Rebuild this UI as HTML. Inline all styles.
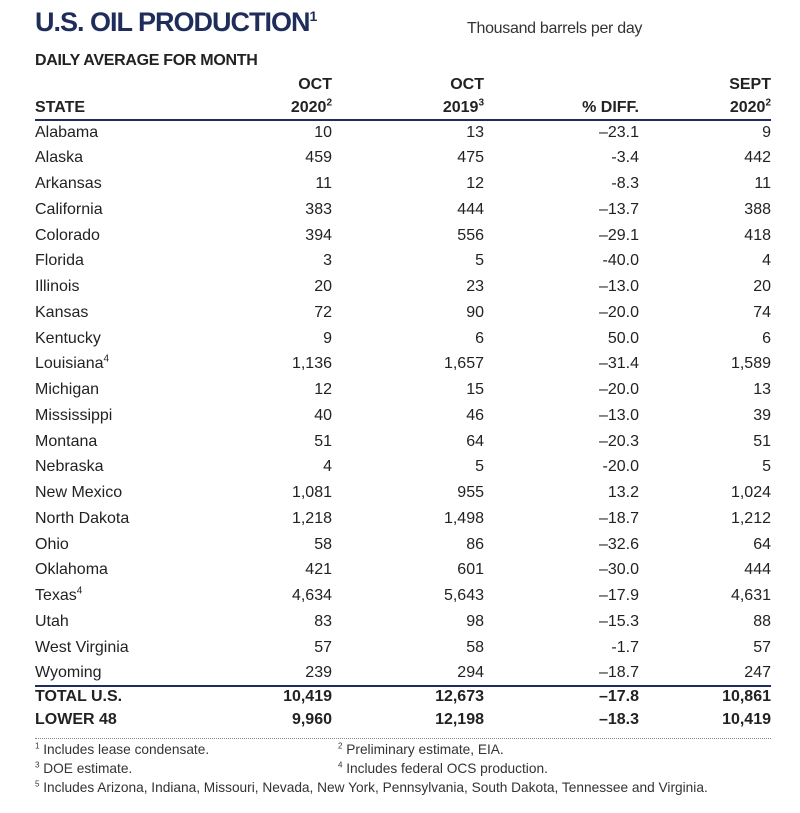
<!DOCTYPE html>
<html><head><meta charset="utf-8"><style>
body{margin:0;width:800px;height:813px;background:#fff;font-family:"Liberation Sans",sans-serif;color:#222;position:relative;overflow:hidden}
.a{position:absolute;white-space:nowrap}
.r{position:absolute;left:0;width:800px;height:24px;font-size:16px;line-height:24px}
.r > span{position:absolute;top:0}
.s{left:35px}
.c1{right:468px}.c2{right:316px}.c3{right:161px}.c4{right:29px}
sup{font-size:10px;vertical-align:super;line-height:0}
.b{font-weight:bold}
.fn{font-size:13.7px;color:#333}
.fn sup{font-size:8px}
</style></head><body>
<div class="a" style="left:35px;top:7px;font-size:27px;font-weight:bold;color:#1f2d5a;letter-spacing:-1px">U.S. OIL PRODUCTION<sup style="font-size:14px">1</sup></div>
<div class="a" style="left:467px;top:20px;font-size:16px;color:#333;letter-spacing:-0.3px">Thousand barrels per day</div>
<div class="a b" style="left:35px;top:52px;font-size:16px;letter-spacing:-0.3px">DAILY AVERAGE FOR MONTH</div>
<div class="r b" style="top:73px"><span class="c1">OCT</span><span class="c2">OCT</span><span class="c4">SEPT</span></div>
<div class="r b" style="top:96px"><span class="s">STATE</span><span class="c1">2020<sup>2</sup></span><span class="c2">2019<sup>3</sup></span><span class="c3">% DIFF.</span><span class="c4">2020<sup>2</sup></span></div>
<div class="a" style="left:35px;top:119px;width:736px;height:2px;background:#1f2d5a"></div>
<div class="a" style="left:35px;top:685px;width:736px;height:2px;background:#1f2d5a"></div>
<div class="r b" style="top:685px"><span class="s">TOTAL U.S.</span><span class="c1">10,419</span><span class="c2">12,673</span><span class="c3">–17.8</span><span class="c4">10,861</span></div>
<div class="r b" style="top:708px"><span class="s">LOWER 48</span><span class="c1">9,960</span><span class="c2">12,198</span><span class="c3">–18.3</span><span class="c4">10,419</span></div>
<div class="a" style="left:35px;top:738px;width:736px;border-top:1px dotted #888"></div>
<div class="a fn" style="left:35px;top:742px"><sup>1</sup> Includes lease condensate.</div>
<div class="a fn" style="left:338px;top:742px"><sup>2</sup> Preliminary estimate, EIA.</div>
<div class="a fn" style="left:35px;top:761px"><sup>3</sup> DOE estimate.</div>
<div class="a fn" style="left:338px;top:761px"><sup>4</sup> Includes federal OCS production.</div>
<div class="a fn" style="left:35px;top:780px"><sup>5</sup> Includes Arizona, Indiana, Missouri, Nevada, New York, Pennsylvania, South Dakota, Tennessee and Virginia.</div>
<div class="r" style="top:120.5px"><span class="s">Alabama</span><span class="c1">10</span><span class="c2">13</span><span class="c3">–23.1</span><span class="c4">9</span></div>
<div class="r" style="top:146.2px"><span class="s">Alaska</span><span class="c1">459</span><span class="c2">475</span><span class="c3">-3.4</span><span class="c4">442</span></div>
<div class="r" style="top:172px"><span class="s">Arkansas</span><span class="c1">11</span><span class="c2">12</span><span class="c3">-8.3</span><span class="c4">11</span></div>
<div class="r" style="top:197.7px"><span class="s">California</span><span class="c1">383</span><span class="c2">444</span><span class="c3">–13.7</span><span class="c4">388</span></div>
<div class="r" style="top:223.5px"><span class="s">Colorado</span><span class="c1">394</span><span class="c2">556</span><span class="c3">–29.1</span><span class="c4">418</span></div>
<div class="r" style="top:249.3px"><span class="s">Florida</span><span class="c1">3</span><span class="c2">5</span><span class="c3">-40.0</span><span class="c4">4</span></div>
<div class="r" style="top:275px"><span class="s">Illinois</span><span class="c1">20</span><span class="c2">23</span><span class="c3">–13.0</span><span class="c4">20</span></div>
<div class="r" style="top:300.8px"><span class="s">Kansas</span><span class="c1">72</span><span class="c2">90</span><span class="c3">–20.0</span><span class="c4">74</span></div>
<div class="r" style="top:326.5px"><span class="s">Kentucky</span><span class="c1">9</span><span class="c2">6</span><span class="c3">50.0</span><span class="c4">6</span></div>
<div class="r" style="top:352.3px"><span class="s">Louisiana<sup>4</sup></span><span class="c1">1,136</span><span class="c2">1,657</span><span class="c3">–31.4</span><span class="c4">1,589</span></div>
<div class="r" style="top:378px"><span class="s">Michigan</span><span class="c1">12</span><span class="c2">15</span><span class="c3">–20.0</span><span class="c4">13</span></div>
<div class="r" style="top:403.8px"><span class="s">Mississippi</span><span class="c1">40</span><span class="c2">46</span><span class="c3">–13.0</span><span class="c4">39</span></div>
<div class="r" style="top:429.6px"><span class="s">Montana</span><span class="c1">51</span><span class="c2">64</span><span class="c3">–20.3</span><span class="c4">51</span></div>
<div class="r" style="top:455.3px"><span class="s">Nebraska</span><span class="c1">4</span><span class="c2">5</span><span class="c3">-20.0</span><span class="c4">5</span></div>
<div class="r" style="top:481.1px"><span class="s">New Mexico</span><span class="c1">1,081</span><span class="c2">955</span><span class="c3">13.2</span><span class="c4">1,024</span></div>
<div class="r" style="top:506.8px"><span class="s">North Dakota</span><span class="c1">1,218</span><span class="c2">1,498</span><span class="c3">–18.7</span><span class="c4">1,212</span></div>
<div class="r" style="top:532.6px"><span class="s">Ohio</span><span class="c1">58</span><span class="c2">86</span><span class="c3">–32.6</span><span class="c4">64</span></div>
<div class="r" style="top:558.4px"><span class="s">Oklahoma</span><span class="c1">421</span><span class="c2">601</span><span class="c3">–30.0</span><span class="c4">444</span></div>
<div class="r" style="top:584.1px"><span class="s">Texas<sup>4</sup></span><span class="c1">4,634</span><span class="c2">5,643</span><span class="c3">–17.9</span><span class="c4">4,631</span></div>
<div class="r" style="top:609.9px"><span class="s">Utah</span><span class="c1">83</span><span class="c2">98</span><span class="c3">–15.3</span><span class="c4">88</span></div>
<div class="r" style="top:635.6px"><span class="s">West Virginia</span><span class="c1">57</span><span class="c2">58</span><span class="c3">-1.7</span><span class="c4">57</span></div>
<div class="r" style="top:661px"><span class="s">Wyoming</span><span class="c1">239</span><span class="c2">294</span><span class="c3">–18.7</span><span class="c4">247</span></div>
</body></html>
